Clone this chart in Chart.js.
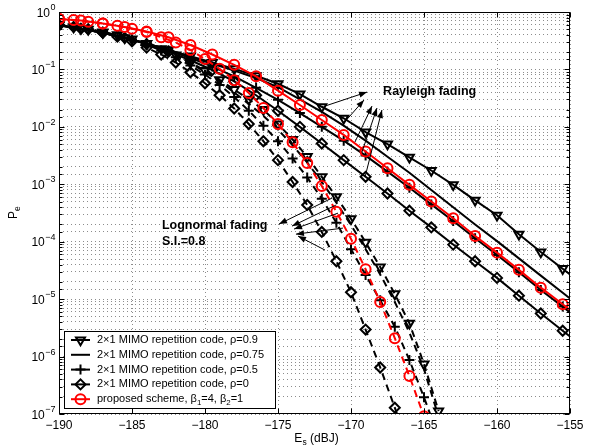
<!DOCTYPE html>
<html><head><meta charset="utf-8">
<script src="https://cdn.jsdelivr.net/npm/chart.js@4.4.1/dist/chart.umd.min.js"></script>
<style>html,body{margin:0;padding:0;background:#fff;}canvas{display:block;}</style>
</head><body>
<canvas id="c" width="595" height="448"></canvas>
<script>
const rayleighEs = [-190,-188.5,-187,-185.5,-184,-182.5,-181,-179.5,-178,-176.5,-175,-173.5,-172,-170.5,-169,-167.5,-166,-164.5,-163,-161.5,-160,-158.5,-157,-155.5,-155];
const lognormalEs = [-190,-189,-188,-187,-186,-185,-184,-183,-182,-181,-180,-179,-178,-177,-176,-175,-174,-173,-172,-171,-170,-169,-168,-167,-166,-165,-164];

const rayRho09Log  = [-0.23,-0.29,-0.36,-0.45,-0.55,-0.66,-0.77,-0.88,-0.99,-1.11,-1.25,-1.43,-1.65,-1.85,-2.09,-2.30,-2.53,-2.76,-3.01,-3.28,-3.54,-3.87,-4.18,-4.47,-4.57];
const rayRho075Log = [-0.23,-0.29,-0.36,-0.45,-0.55,-0.66,-0.78,-0.90,-1.02,-1.15,-1.31,-1.52,-1.74,-1.98,-2.24,-2.52,-2.80,-3.10,-3.40,-3.70,-3.99,-4.29,-4.59,-4.89,-4.99];
const rayRho05Log  = [-0.23,-0.29,-0.36,-0.45,-0.55,-0.67,-0.80,-0.95,-1.12,-1.32,-1.53,-1.76,-2.00,-2.24,-2.50,-2.78,-3.06,-3.35,-3.64,-3.94,-4.23,-4.53,-4.84,-5.13,-5.23];
const rayRho0Log   = [-0.23,-0.29,-0.36,-0.45,-0.56,-0.69,-0.84,-1.01,-1.21,-1.45,-1.72,-2.00,-2.29,-2.58,-2.87,-3.16,-3.46,-3.75,-4.05,-4.34,-4.63,-4.94,-5.25,-5.55,-5.65];
const rayProposedLog = [-0.12,-0.15,-0.20,-0.26,-0.34,-0.44,-0.575,-0.74,-0.92,-1.12,-1.37,-1.62,-1.88,-2.14,-2.43,-2.72,-3.01,-3.30,-3.59,-3.90,-4.19,-4.49,-4.80,-5.09,-5.19];

const logRho09Log  = [-0.23,-0.26,-0.30,-0.35,-0.40,-0.47,-0.55,-0.64,-0.75,-0.88,-1.02,-1.18,-1.35,-1.52,-1.70,-1.95,-2.22,-2.52,-2.87,-3.22,-3.60,-4.01,-4.44,-4.91,-5.42,-6.13,-6.95];
const logRho075Log = [-0.23,-0.26,-0.30,-0.35,-0.41,-0.48,-0.56,-0.65,-0.76,-0.89,-1.04,-1.21,-1.40,-1.60,-1.81,-2.05,-2.32,-2.62,-2.96,-3.32,-3.71,-4.13,-4.57,-5.05,-5.58,-6.22,-7.05];
const logRho05Log  = [-0.23,-0.26,-0.30,-0.35,-0.41,-0.48,-0.57,-0.67,-0.79,-0.93,-1.09,-1.27,-1.48,-1.72,-1.98,-2.25,-2.55,-2.88,-3.25,-3.67,-4.13,-4.58,-5.02,-5.48,-6.06,-6.71,-7.40];
const logRho0Log   = [-0.23,-0.26,-0.30,-0.36,-0.43,-0.51,-0.62,-0.74,-0.88,-1.05,-1.24,-1.45,-1.68,-1.95,-2.25,-2.58,-2.96,-3.36,-3.83,-4.34,-4.88,-5.53,-6.19,-6.89,-7.60];
const logProposedLog = [-0.12,-0.14,-0.17,-0.20,-0.24,-0.29,-0.35,-0.44,-0.53,-0.66,-0.82,-0.99,-1.19,-1.41,-1.67,-1.95,-2.27,-2.63,-3.03,-3.48,-3.95,-4.48,-5.05,-5.68,-6.34,-7.04];

const xTickValues = [-190,-185,-180,-175,-170,-165,-160,-155];
const yTickExponents = [0,-1,-2,-3,-4,-5,-6,-7];
const legendLabels = [
  [['2×1 MIMO repetition code, ρ=0.9',0]],
  [['2×1 MIMO repetition code, ρ=0.75',0]],
  [['2×1 MIMO repetition code, ρ=0.5',0]],
  [['2×1 MIMO repetition code, ρ=0',0]],
  [['proposed scheme, β',0],['1',1],['=4, β',0],['2',1],['=1',0]]
];
// annotation arrows: [tailEs, tailLog, headEs, headLog]
const rayleighArrows = [
  [-171.78,-1.638,-168.90,-1.394],
  [-170.62,-1.969,-169.11,-1.533],
  [-169.73,-2.265,-168.56,-1.638],
  [-169.25,-2.439,-168.22,-1.672],
  [-169.04,-2.875,-167.88,-1.707]
];
const lognormalArrows = [
  [-171.30,-3.240,-174.93,-3.693],
  [-171.03,-3.362,-174.04,-3.728],
  [-170.89,-3.502,-173.90,-3.780],
  [-170.55,-3.763,-173.77,-3.868],
  [-171.78,-4.146,-173.63,-3.902]
];
const annotationTexts = [
  ['Rayleigh fading', -167.8, -1.39],
  ['Lognormal fading', -182.95, -3.71],
  ['S.I.=0.8', -182.95, -3.99]
];

// ---- build datasets ----
const BLACK = '#000000', RED = '#ff0000';
const FONT = '"Liberation Sans", Arial, Helvetica, sans-serif';
function pts(xs, logs){ return logs.map((v,i)=>({x: xs[i], y: Math.pow(10, v)})); }
function mk(label, xs, logs, color, style, rot, radius, dashed, hideLast){
  const n = logs.length;
  return {
    label, data: pts(xs, logs), borderColor: color, backgroundColor: 'rgba(0,0,0,0)',
    borderWidth: 2, borderDash: dashed ? [7,5] : [],
    pointStyle: style || 'circle', pointRotation: rot || 0,
    pointRadius: style ? (ctx => (hideLast && ctx.dataIndex === n-1) ? 0 : radius) : 0,
    pointHoverRadius: 0, pointBorderWidth: 2, pointBorderColor: color,
    pointBackgroundColor: 'rgba(0,0,0,0)', tension: 0, fill: false
  };
}
const datasets = [
  mk('proposed Rayleigh', rayleighEs, rayProposedLog, RED, 'circle', 0, 5, false, true),
  mk('proposed lognormal', lognormalEs, logProposedLog, RED, 'circle', 0, 5, true, false),
  mk('rho0.9 Rayleigh', rayleighEs, rayRho09Log, BLACK, 'triangle', 180, 5.2, false, true),
  mk('rho0.75 Rayleigh', rayleighEs, rayRho075Log, BLACK, null, 0, 0, false, true),
  mk('rho0.5 Rayleigh', rayleighEs, rayRho05Log, BLACK, 'cross', 0, 5, false, true),
  mk('rho0 Rayleigh', rayleighEs, rayRho0Log, BLACK, 'rectRot', 0, 5, false, true),
  mk('rho0.9 lognormal', lognormalEs, logRho09Log, BLACK, 'triangle', 180, 5.2, true, false),
  mk('rho0.75 lognormal', lognormalEs, logRho075Log, BLACK, null, 0, 0, true, false),
  mk('rho0.5 lognormal', lognormalEs, logRho05Log, BLACK, 'cross', 0, 5, true, false),
  mk('rho0 lognormal', lognormalEs, logRho0Log, BLACK, 'rectRot', 0, 5, true, false)
];
// legend entries refer to datasets: 0.9, 0.75, 0.5, 0, proposed (Rayleigh)
const legendDatasetIdx = [2,3,4,5,0];

function drawRich(ctx, segs, x, y, size){
  let cx = x;
  for (const [t, sub] of segs){
    ctx.font = (sub ? (size*0.72) : size) + 'px ' + FONT;
    ctx.fillText(t, cx, sub ? y + size*0.3 : y);
    cx += ctx.measureText(t).width;
  }
}

const decor = {
  id: 'decor',
  afterDraw(chart){
    const {ctx, chartArea: ca, scales: {x, y}} = chart;
    ctx.save();
    ctx.strokeStyle = BLACK; ctx.fillStyle = BLACK; ctx.lineWidth = 1; ctx.setLineDash([]);
    const L = Math.round(ca.left)+0.5, T = Math.round(ca.top)+0.5, R = Math.round(ca.right)-0.5, B = Math.round(ca.bottom)-0.5;
    // inner ticks
    ctx.beginPath();
    x.ticks.forEach(t => { const px = Math.round(x.getPixelForValue(t.value))+0.5; ctx.moveTo(px,B); ctx.lineTo(px,B-5); ctx.moveTo(px,T); ctx.lineTo(px,T+5); });
    y.ticks.forEach(t => {
      const e = Math.log10(t.value); const major = Math.abs(e-Math.round(e))<1e-6; const len = major?5:3;
      const py = Math.round(y.getPixelForValue(t.value))+0.5;
      ctx.moveTo(L,py); ctx.lineTo(L+len,py); ctx.moveTo(R,py); ctx.lineTo(R-len,py);
    });
    ctx.stroke();
    // frame
    ctx.strokeRect(L, T, R-L, B-T);

    // y tick labels 10^k with raised exponent
    ctx.textBaseline = 'alphabetic'; ctx.textAlign = 'left'; ctx.fillStyle = BLACK;
    yTickExponents.forEach(k => {
      const py = y.getPixelForValue(Math.pow(10, k));
      const ex = k === 0 ? '0' : '−' + Math.abs(k);
      ctx.font = '12px ' + FONT; const w1 = ctx.measureText('10').width;
      ctx.font = '9px ' + FONT; const w2 = ctx.measureText(ex).width;
      const x0 = ca.left - 4 - w1 - w2;
      ctx.font = '12px ' + FONT; ctx.fillText('10', x0, py + 4.5);
      ctx.font = '9px ' + FONT; ctx.fillText(ex, x0 + w1 + 0.5, py - 2);
    });

    // annotation arrows
    const arrow = (a) => {
      const x1 = x.getPixelForValue(a[0]), y1 = y.getPixelForValue(Math.pow(10,a[1]));
      const x2 = x.getPixelForValue(a[2]), y2 = y.getPixelForValue(Math.pow(10,a[3]));
      const ang = Math.atan2(y2-y1, x2-x1);
      ctx.beginPath(); ctx.moveTo(x1,y1); ctx.lineTo(x2,y2); ctx.lineWidth = 1; ctx.strokeStyle = BLACK; ctx.stroke();
      const hl = 8, hw = 3;
      ctx.beginPath();
      ctx.moveTo(x2,y2);
      ctx.lineTo(x2 - hl*Math.cos(ang) + hw*Math.sin(ang), y2 - hl*Math.sin(ang) - hw*Math.cos(ang));
      ctx.lineTo(x2 - hl*Math.cos(ang) - hw*Math.sin(ang), y2 - hl*Math.sin(ang) + hw*Math.cos(ang));
      ctx.closePath(); ctx.fillStyle = BLACK; ctx.fill();
    };
    rayleighArrows.forEach(arrow);
    lognormalArrows.forEach(arrow);

    // annotation texts
    ctx.fillStyle = BLACK;
    ctx.font = 'bold 12.5px ' + FONT; ctx.textBaseline = 'middle'; ctx.textAlign = 'left';
    annotationTexts.forEach(([t, ex, ly]) => ctx.fillText(t, x.getPixelForValue(ex), y.getPixelForValue(Math.pow(10, ly))));

    // legend box
    const lx = ca.left + 5, lw = 211, lh = 77, ly0 = ca.bottom - 6 - lh;
    ctx.fillStyle = '#fff'; ctx.fillRect(lx, ly0, lw, lh);
    ctx.strokeStyle = BLACK; ctx.lineWidth = 1; ctx.strokeRect(Math.round(lx)+0.5, Math.round(ly0)+0.5, lw, lh);
    legendDatasetIdx.forEach((di, r) => {
      const d = chart.data.datasets[di];
      const ry = ly0 + 9 + r*14.8;
      ctx.strokeStyle = d.borderColor; ctx.lineWidth = 2; ctx.setLineDash([]);
      ctx.beginPath(); ctx.moveTo(lx+7, ry); ctx.lineTo(lx+26, ry); ctx.stroke();
      const pr = typeof d.pointRadius === 'function' ? d.pointRadius({dataIndex:0}) : d.pointRadius;
      if (pr > 0){
        ctx.lineWidth = d.pointBorderWidth; ctx.strokeStyle = d.pointBorderColor;
        ctx.fillStyle = 'rgba(0,0,0,0)';
        Chart.helpers.drawPoint(ctx, {pointStyle: d.pointStyle, rotation: d.pointRotation, radius: pr, borderWidth: d.pointBorderWidth}, lx+16.5, ry);
      }
      ctx.fillStyle = BLACK; ctx.textBaseline = 'middle';
      drawRich(ctx, legendLabels[r], lx + 33, ry, 11);
    });

    // axis titles
    ctx.fillStyle = BLACK; ctx.textBaseline = 'alphabetic'; ctx.textAlign = 'left';
    // x title: E_s (dBJ)
    ctx.font = '12px ' + FONT;
    const wE = ctx.measureText('E').width, wRest = ctx.measureText(' (dBJ)').width;
    ctx.font = '8.5px ' + FONT; const wS = ctx.measureText('s').width;
    const xt = (ca.left + ca.right)/2 - (wE + wS + wRest)/2 + 2, yt = 442;
    ctx.font = '12px ' + FONT; ctx.fillText('E', xt, yt);
    ctx.font = '8.5px ' + FONT; ctx.fillText('s', xt + wE, yt + 3);
    ctx.font = '12px ' + FONT; ctx.fillText(' (dBJ)', xt + wE + wS, yt);
    // y title: P_e
    ctx.save();
    ctx.translate(17, (ca.top + ca.bottom)/2);
    ctx.rotate(-Math.PI/2);
    ctx.font = '12px ' + FONT; const wP = ctx.measureText('P').width;
    ctx.fillText('P', -6, 0);
    ctx.font = '8.5px ' + FONT; ctx.fillText('e', -6 + wP, 3);
    ctx.restore();
    ctx.restore();
  }
};

new Chart(document.getElementById('c'), {
  type: 'line',
  data: { datasets },
  options: {
    responsive: false, animation: false, devicePixelRatio: 1,
    layout: { padding: { top: 12, right: 25, left: 0, bottom: 0 } },
    plugins: { legend: { display: false }, tooltip: { enabled: false } },
    events: [],
    scales: {
      x: {
        type: 'linear', min: -190, max: -155,
        afterFit(s){ s.height = 34; },
        afterBuildTicks(s){ s.ticks = xTickValues.map(v => ({value: v})); },
        ticks: { padding: 4, color: BLACK, font: { size: 12, family: FONT }, callback: v => String(v).replace('-', '−'), maxRotation: 0, autoSkip: false },
        grid: { color: 'rgba(0,0,0,0.45)', lineWidth: 1, drawTicks: false },
        border: { display: false, dash: [1,3] }
      },
      y: {
        type: 'logarithmic', min: 1e-7, max: 1,
        afterFit(s){ s.width = 59; },
        ticks: { padding: 4, color: BLACK, font: { size: 12, family: FONT }, autoSkip: false, callback: () => '' },
        grid: { color: 'rgba(0,0,0,0.45)', lineWidth: 1, drawTicks: false },
        border: { display: false, dash: [1,3] }
      }
    }
  },
  plugins: [decor]
});
</script>
</body></html>
